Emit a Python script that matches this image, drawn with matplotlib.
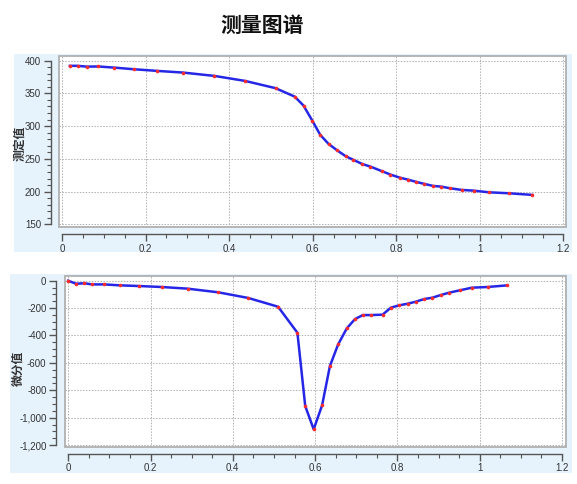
import matplotlib
matplotlib.use("Agg")
import matplotlib.pyplot as plt
from matplotlib.patches import Rectangle
from matplotlib.ticker import MultipleLocator, FuncFormatter

plt.rcParams['font.family'] = ['Noto Sans CJK SC', 'DejaVu Sans']

title = "测量图谱"
ylabel_top = "测定值"
ylabel_bottom = "微分值"

# Measured curve (top)
x_top = [0.019, 0.0375, 0.059, 0.087, 0.125, 0.172, 0.227, 0.29, 0.365, 0.438,
         0.511, 0.557, 0.578, 0.599, 0.618, 0.638, 0.658, 0.679, 0.696, 0.718,
         0.738, 0.766, 0.786, 0.808, 0.828, 0.848, 0.867, 0.888, 0.908, 0.928,
         0.956, 0.985, 1.021, 1.069, 1.125]
y_top = [392, 392, 390.8, 391, 389.3, 386.8, 384.3, 381.7, 376.6, 369,
         357.9, 345, 331.3, 308.4, 286.6, 272.8, 263.2, 254, 248.9, 242.3,
         238.2, 231.1, 226, 221.4, 218.3, 214.8, 211.8, 208.7, 207.6, 205.2,
         202.6, 201.5, 199, 197.5, 195]

# Differential curve (bottom)
x_bot = [0.0, 0.0187, 0.039, 0.058, 0.087, 0.126, 0.173, 0.227, 0.29, 0.365,
         0.4375, 0.51, 0.557, 0.576, 0.5965, 0.617, 0.636, 0.656, 0.677, 0.697,
         0.716, 0.736, 0.764, 0.784, 0.804, 0.825, 0.845, 0.865, 0.885, 0.905,
         0.925, 0.952, 0.981, 1.019, 1.067]
y_bot = [0, -22, -19, -27, -27, -34, -39, -46, -58, -85,
         -126, -190, -380, -915, -1085, -910, -623, -465, -348, -280,
         -251, -251, -248, -197, -180, -168, -153, -134, -124, -105,
         -88, -70, -51, -46, -34]

W, H = 577, 484
fig = plt.figure(figsize=(W / 100, H / 100), dpi=100)
fig.patch.set_facecolor('white')

def fx(px):
    return px / W

def fy(py):
    return 1 - py / H

bg = '#e6f3fc'
# light blue chart containers (background axes placed behind)
for (l, t, r, b) in [(14, 54, 572, 252), (10, 274, 572, 473)]:
    bax = fig.add_axes([fx(l), fy(b), fx(r - l), (b - t) / H], zorder=-5)
    bax.set_facecolor(bg)
    bax.set_xticks([])
    bax.set_yticks([])
    for s in bax.spines.values():
        s.set_visible(False)

fig.text(fx(262), fy(25), title, ha='center', va='center', fontsize=15, fontweight='bold',
         color='#111111')

tick_font = ['Liberation Sans', 'DejaVu Sans']


def style_axes(ax, xmajor, ymajor, yminor, xbounds, ybounds, yfmt):
    ax.set_facecolor('white')
    for s in ['top', 'right']:
        ax.spines[s].set_visible(False)
    ax.spines['left'].set_position(('outward', 6))
    ax.spines['bottom'].set_position(('outward', 5))
    ax.spines['left'].set_bounds(*ybounds)
    ax.spines['bottom'].set_bounds(*xbounds)
    for s in ['left', 'bottom']:
        ax.spines[s].set_color('#555555')
        ax.spines[s].set_linewidth(1.0)
    ax.xaxis.set_major_locator(MultipleLocator(xmajor))
    ax.xaxis.set_minor_locator(MultipleLocator(0.05))
    ax.yaxis.set_major_locator(MultipleLocator(ymajor))
    ax.yaxis.set_minor_locator(MultipleLocator(yminor))
    ax.xaxis.set_major_formatter(FuncFormatter(lambda v, p: '%g' % round(v, 3)))
    ax.yaxis.set_major_formatter(FuncFormatter(yfmt))
    ax.tick_params(axis='both', which='major', length=5, width=1, color='#555555',
                   labelsize=7, labelcolor='#333333', pad=2)
    ax.tick_params(axis='both', which='minor', length=3, width=0.8, color='#555555')
    for lab in ax.get_xticklabels() + ax.get_yticklabels():
        lab.set_family(tick_font)
    ax.grid(True, which='major', linestyle=(0, (1.5, 1.5)), color='#b0b0b0', linewidth=0.7)
    ax.set_axisbelow(True)
    ax.add_patch(Rectangle((0, 0), 1, 1, transform=ax.transAxes, fill=False,
                           edgecolor='#b0b0b0', linewidth=1.3, clip_on=False, zorder=5))


# Top axes: plot area px x 59..566, y 56..227
ax1 = fig.add_axes([fx(59), fy(227), fx(566 - 59), (227 - 56) / H])
ax1.plot(x_top, y_top, color='#2626e6', linewidth=1.8, zorder=3)
ax1.plot(x_top, y_top, linestyle='none', marker='o', markersize=2.6, color='#ff2a2a',
         markeredgewidth=0, zorder=4)
ax1.set_xlim(-0.007, 1.206)
ax1.set_ylim(146, 407)
style_axes(ax1, 0.2, 50, 10, (0, 1.2), (150, 400), lambda v, p: '{:,.0f}'.format(v))

# Bottom axes: plot area px x 64.5..565.5, y 275.7..446.7
ax2 = fig.add_axes([fx(64.5), fy(446.7), fx(565.5 - 64.5), (446.7 - 275.7) / H])
ax2.plot(x_bot, y_bot, color='#2626e6', linewidth=1.8, zorder=3)
ax2.plot(x_bot, y_bot, linestyle='none', marker='o', markersize=2.6, color='#ff2a2a',
         markeredgewidth=0, zorder=4)
ax2.set_xlim(-0.009, 1.2085)
ax2.set_ylim(-1212, 36.5)
style_axes(ax2, 0.2, 200, 50, (0, 1.2), (-1200, 0), lambda v, p: '{:,.0f}'.format(v))

fig.text(fx(20), fy(143), ylabel_top, rotation=90, ha='center', va='center',
         fontsize=8.5, fontweight='bold', color='#333333')
fig.text(fx(18), fy(368), ylabel_bottom, rotation=90, ha='center', va='center',
         fontsize=8.5, fontweight='bold', color='#333333')

fig.savefig('out.png', dpi=100, facecolor='white')
